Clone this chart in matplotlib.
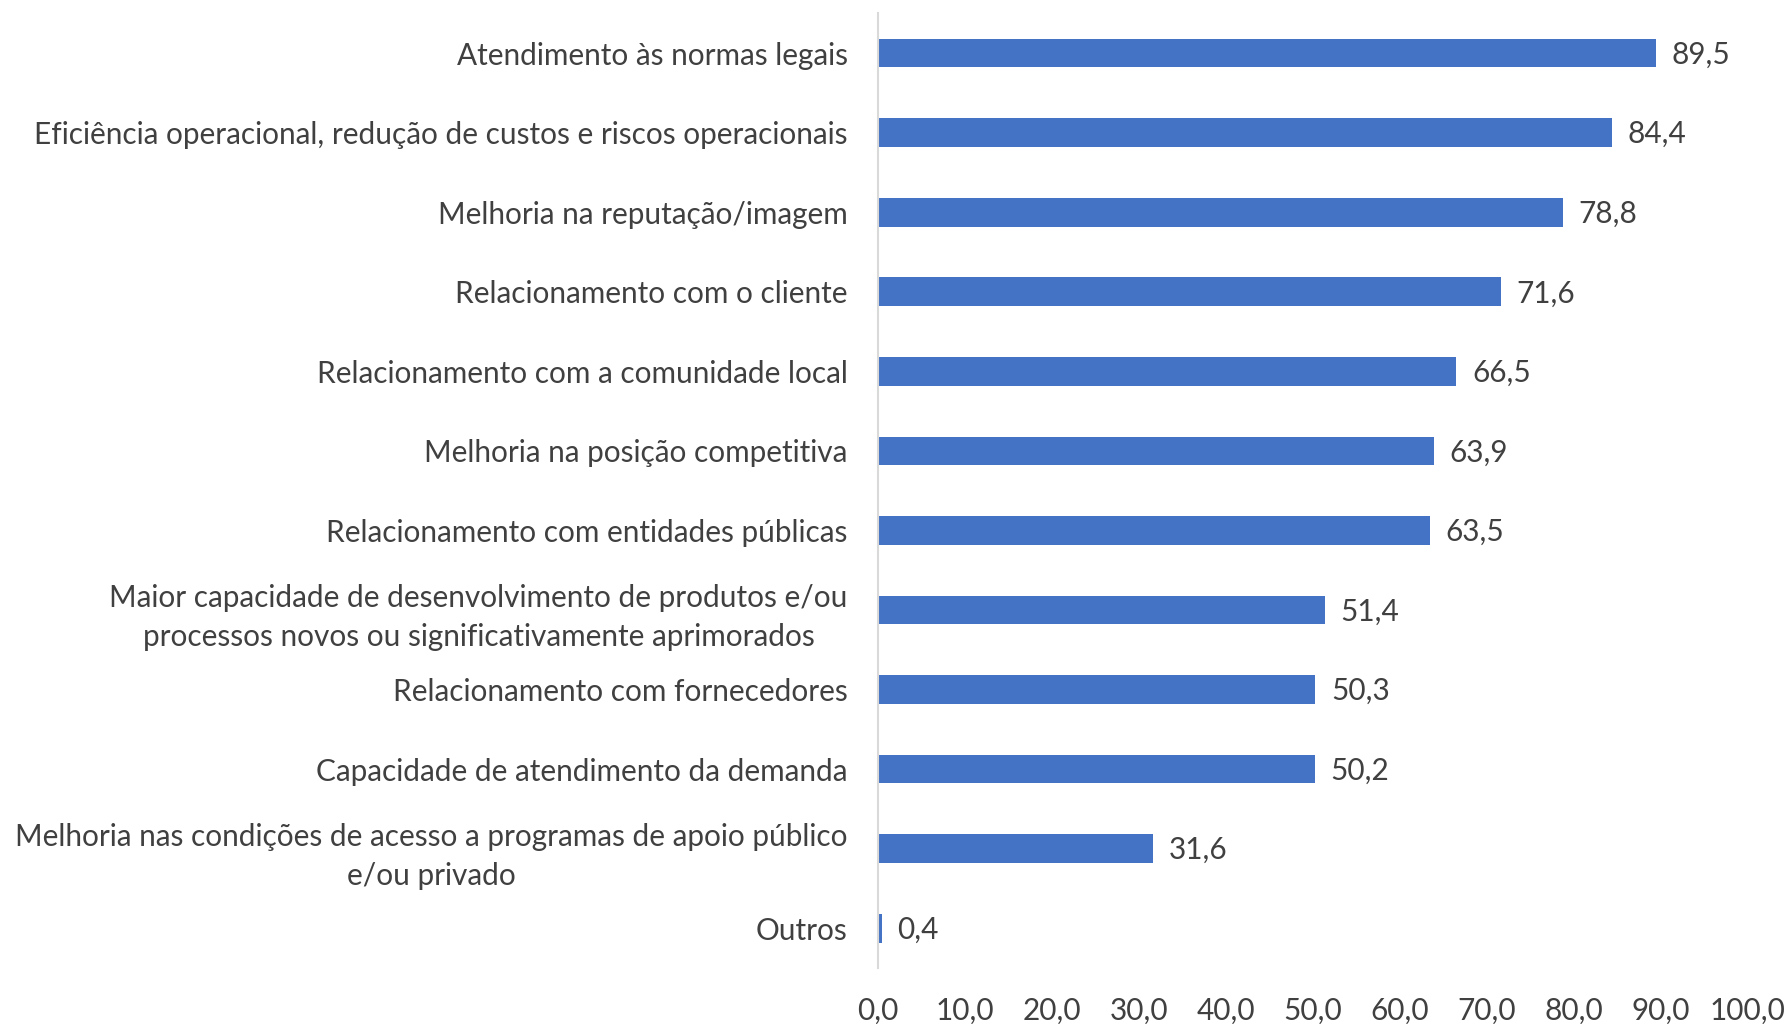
import matplotlib.pyplot as plt

# ==========================================
# DATA
# ==========================================

categories = [
    "Atendimento às normas legais",
    "Eficiência operacional, redução de custos e riscos operacionais",
    "Melhoria na reputação/imagem",
    "Relacionamento com o cliente",
    "Relacionamento com a comunidade local",
    "Melhoria na posição competitiva",
    "Relacionamento com entidades públicas",
    "Maior capacidade de desenvolvimento de produtos e/ou\nprocessos novos ou significativamente aprimorados",
    "Relacionamento com fornecedores",
    "Capacidade de atendimento da demanda",
    "Melhoria nas condições de acesso a programas de apoio público\ne/ou privado",
    "Outros",
]

values = [89.5, 84.4, 78.8, 71.6, 66.5, 63.9, 63.5, 51.4, 50.3, 50.2, 31.6, 0.4]

x_ticks = [0, 10, 20, 30, 40, 50, 60, 70, 80, 90, 100]

# ==========================================
# PLOT
# ==========================================

plt.rcParams["font.family"] = ["Lato", "DejaVu Sans"]

text_color = "#404040"
fs = 21.4

fig = plt.figure(figsize=(17.85, 10.24), dpi=100)
ax = fig.add_axes([0.492, 0.0547, 0.487, 0.9323])

pos = list(range(len(categories)))

ax.barh(pos, values, height=0.36, color="#4472C4")

for p, v in zip(pos, values):
    ax.text(
        v + 1.8, p + 0.02, f"{v:.1f}".replace(".", ","),
        va="center", ha="left", fontsize=fs, color=text_color
    )

ax.set_ylim(len(categories) - 0.5, -0.5)
ax.set_xlim(0, 100)

ax.set_yticks(pos)
ax.set_yticklabels(categories, fontsize=fs, color=text_color,
                   multialignment="center", linespacing=1.45)

ax.set_xticks(x_ticks)
ax.set_xticklabels([f"{t:.1f}".replace(".", ",") for t in x_ticks], fontsize=fs, color=text_color)

ax.tick_params(axis="y", length=0, pad=22)
ax.tick_params(axis="x", length=0, pad=21)

for s in ["top", "right", "bottom"]:
    ax.spines[s].set_visible(False)
ax.spines["left"].set_color("#d9d9d9")
ax.spines["left"].set_linewidth(1.5)

fig.savefig("out.png", dpi=100)
